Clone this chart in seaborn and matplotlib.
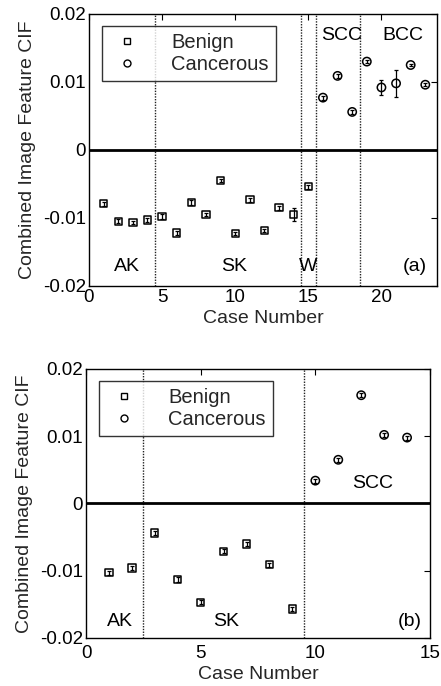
import numpy as np
import pandas as pd
import matplotlib
matplotlib.use("Agg")
import matplotlib.pyplot as plt
import seaborn as sns
from matplotlib.lines import Line2D

sns.set_theme(style="white")
plt.rcParams['font.family'] = ['Liberation Sans', 'DejaVu Sans']

# ---------------- Panel (a) data ----------------
a_benign_case = [1, 2, 3, 4, 5, 6, 7, 8, 9, 10, 11, 12, 13, 14, 15]
a_benign_cif = [-0.0079, -0.0105, -0.0107, -0.0103, -0.0098, -0.0122, -0.0077, -0.0095,
                -0.0045, -0.0123, -0.0073, -0.0118, -0.0085, -0.0095, -0.0054]
a_benign_err = [0.0003, 0.0003, 0.0002, 0.0003, 0.0004, 0.0003, 0.0004, 0.0002,
                0.0002, 0.0002, 0.0003, 0.0002, 0.0003, 0.0009, 0.0003]
a_canc_case = [16, 17, 18, 19, 20, 21, 22, 23]
a_canc_cif = [0.0077, 0.0109, 0.0056, 0.0130, 0.0092, 0.0098, 0.0125, 0.0096]
a_canc_err = [0.0003, 0.0003, 0.0003, 0.0002, 0.0011, 0.0020, 0.0002, 0.0002]
a_dividers = [4.5, 14.5, 15.5, 18.5]
a_labels = ["AK", "SK", "W", "SCC", "BCC", "(a)"]
a_label_x = [2.6, 9.9, 15.0, 17.3, 21.5, 22.3]
a_label_y = [-0.0172, -0.0172, -0.0172, 0.0169, 0.0169, -0.0172]

# ---------------- Panel (b) data ----------------
b_benign_case = [1, 2, 3, 4, 5, 6, 7, 8, 9]
b_benign_cif = [-0.0103, -0.0096, -0.0044, -0.0113, -0.0147, -0.0071, -0.0060, -0.0091, -0.0157]
b_benign_err = [0.0003, 0.0003, 0.0003, 0.0003, 0.0003, 0.0003, 0.0003, 0.0003, 0.0003]
b_canc_case = [10, 11, 12, 13, 14]
b_canc_cif = [0.0034, 0.0065, 0.0161, 0.0102, 0.0098]
b_canc_err = [0.0003, 0.0003, 0.0003, 0.0003, 0.0003]
b_dividers = [2.5, 9.5]
b_labels = ["AK", "SK", "SCC", "(b)"]
b_label_x = [1.5, 6.1, 12.5, 14.1]
b_label_y = [-0.0175, -0.0175, 0.0029, -0.0175]

y_ticks = [-0.02, -0.01, 0, 0.01, 0.02]
y_ticklabels = ["-0.02", "-0.01", "0", "0.01", "0.02"]

FS = 13.5
LFS = 14

fig = plt.figure(figsize=(4.41, 6.86), dpi=100)
ax_a = fig.add_axes([89 / 441, 1 - 286 / 686, 348 / 441, 272 / 686])
ax_b = fig.add_axes([86 / 441, 1 - 638 / 686, 344 / 441, 269 / 686])


def draw_panel(ax, bc, bv, be, cc, cv, ce, dividers, labels, lx, ly, xlim, xticks, xpad):
    dfb = pd.DataFrame({"case": bc, "cif": bv, "err": be})
    dfc = pd.DataFrame({"case": cc, "cif": cv, "err": ce})
    for d in dividers:
        ax.axvline(d, color="#222222", linestyle=(0, (1, 1.0)), linewidth=1.0, zorder=1)
    ax.axhline(0, color="black", linewidth=2.0, zorder=1)
    ax.errorbar(dfb["case"], dfb["cif"], yerr=dfb["err"], fmt="none", ecolor="black",
                elinewidth=0.9, capsize=1.5, capthick=0.9, zorder=2)
    ax.errorbar(dfc["case"], dfc["cif"], yerr=dfc["err"], fmt="none", ecolor="black",
                elinewidth=0.9, capsize=1.5, capthick=0.9, zorder=2)
    sns.scatterplot(data=dfb, x="case", y="cif", ax=ax, marker="s", s=28,
                    color="none", edgecolor="black", linewidth=1.1, zorder=3, legend=False)
    sns.scatterplot(data=dfc, x="case", y="cif", ax=ax, marker="o", s=36,
                    color="none", edgecolor="black", linewidth=1.1, zorder=3, legend=False)
    for t, x, y in zip(labels, lx, ly):
        ax.text(x, y, t, ha="center", va="center", fontsize=LFS, color="black")
    ax.set_xlim(*xlim)
    ax.set_ylim(-0.02, 0.02)
    ax.set_xticks(xticks)
    ax.set_xticklabels([str(t) for t in xticks], fontsize=FS)
    ax.set_yticks(y_ticks)
    ax.set_yticklabels(y_ticklabels, fontsize=FS)
    ax.set_xlabel("Case Number", fontsize=LFS, labelpad=3)
    ax.set_ylabel("Combined Image Feature CIF", fontsize=LFS, labelpad=5)
    ax.tick_params(direction="in", length=4, width=0.8, top=True, right=True,
                   pad=2, colors="black")
    ax.tick_params(axis="x", pad=xpad)
    for sp in ax.spines.values():
        sp.set_color("black")
        sp.set_linewidth(1.0)
    handles = [
        Line2D([], [], marker="s", linestyle="none", markerfacecolor="none",
               markeredgecolor="black", markersize=5),
        Line2D([], [], marker="o", linestyle="none", markerfacecolor="none",
               markeredgecolor="black", markersize=5),
    ]
    leg = ax.legend(handles, ["Benign", "Cancerous"], loc="upper left",
                    bbox_to_anchor=(0.037, 0.957), fontsize=LFS + 0.5, frameon=True,
                    fancybox=False, borderpad=0.35, handletextpad=1.3,
                    labelspacing=0.15, handlelength=1.8, borderaxespad=0)
    leg.get_frame().set_edgecolor("black")
    leg.get_frame().set_linewidth(1.0)


draw_panel(ax_a, a_benign_case, a_benign_cif, a_benign_err, a_canc_case, a_canc_cif,
           a_canc_err, a_dividers, a_labels, a_label_x, a_label_y, (0, 23.8),
           [0, 5, 10, 15, 20], 2)
draw_panel(ax_b, b_benign_case, b_benign_cif, b_benign_err, b_canc_case, b_canc_cif,
           b_canc_err, b_dividers, b_labels, b_label_x, b_label_y, (0, 15),
           [0, 5, 10, 15], 5)

fig.savefig("out.png", dpi=100)
